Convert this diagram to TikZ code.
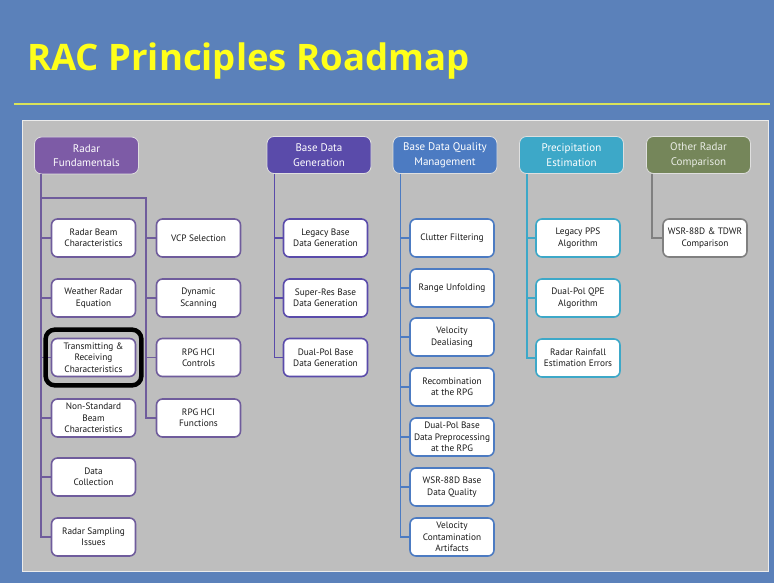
\documentclass[tikz,border=0pt]{standalone}
\usepackage{fontspec}
\setmainfont{PT Sans}
\newfontfamily\titlefont{Open Sans}
\usetikzlibrary{fit}

\definecolor{slideblue}{HTML}{5B81BA}
\definecolor{panelgray}{HTML}{BEBEBE}
\definecolor{titleyellow}{HTML}{FFFF1A}
\definecolor{rulecol}{HTML}{D9E35A}
\definecolor{fundcol}{HTML}{7D5BA6}
\definecolor{fundline}{HTML}{6F5C9C}
\definecolor{gencol}{HTML}{5A4BAA}
\definecolor{qualcol}{HTML}{4C7BC2}
\definecolor{preccol}{HTML}{3DA8C8}
\definecolor{othcol}{HTML}{75865A}
\definecolor{othline}{HTML}{808080}

\tikzset{
  head/.style={rounded corners=7pt, draw=white!75!gray, line width=0.8pt,
    text=white, font=\fontsize{11}{14.5}\selectfont, align=center,
    minimum width=104pt, minimum height=37pt, inner sep=1pt},
  topic/.style={rounded corners=6pt, fill=white, line width=1.6pt,
    text=black!90, font=\fontsize{9.3}{11.4}\selectfont, align=center,
    minimum width=84pt, minimum height=38pt, inner sep=0pt},
  link/.style={line width=1.6pt}
}

\begin{document}
\begin{tikzpicture}[x=1pt,y=-1pt]
    \useasboundingbox (0,0) rectangle (774,583);
    \fill[slideblue] (0,0) rectangle (774,583);

    % title and rule
    \node[anchor=base west, inner sep=0pt, text=titleyellow,
          font=\titlefont\bfseries\fontsize{36.5}{40}\selectfont] (title) at (27,71) {RAC Principles Roadmap};
    \draw[rulecol, line width=1.5pt] (14,104) -- (770,104);
    \fill[panelgray] (22,120) rectangle (768,571);
    \draw[white!85!gray, line width=0.8pt] (22,120) rectangle (768,571);

    % column heads
    \node[head, fill=fundcol] (rf)  at (86.5,155.5) {Radar\\Fundamentals};
    \node[head, fill=gencol]  (bdg) at (319,155)    {Base Data\\Generation};
    \node[head, fill=qualcol] (bdq) at (445,155)    {Base Data Quality\\Management};
    \node[head, fill=preccol] (pe)  at (571.5,155)  {Precipitation\\Estimation};
    \node[head, fill=othcol, text=white!85!othcol] (orc) at (698.5,155) {Other Radar\\Comparison};

    % radar fundamentals
    \begin{scope}[every node/.style={topic, draw=fundline}]
        \node (rbc) at (93.5,238)   {Radar Beam\\Characteristics};
        \node (wre) at (93.5,298)   {Weather Radar\\Equation};
        \node (trc) at (93.5,357.5) {Transmitting \&\\Receiving\\Characteristics};
        \node (nsb) at (93.5,418)   {Non-Standard\\Beam\\Characteristics};
        \node (dc)  at (93.5,477)   {Data\\Collection};
        \node (rsi) at (93.5,537)   {Radar Sampling\\Issues};
        \node (vcp) at (198.5,238)   {VCP Selection};
        \node (dyn) at (198.5,298)   {Dynamic\\Scanning};
        \node (rhc) at (198.5,357.5) {RPG HCI\\Controls};
        \node (rhf) at (198.5,418)   {RPG HCI\\Functions};
    \end{scope}
    \coordinate (rfs) at ([xshift=7pt]rf.south west);
    \coordinate (rfk) at (146,198);
    \draw[link, fundline] (rfs) |- (rsi.west);
    \draw[link, fundline] (rfs |- rfk) -- (rfk) |- (rhf.west);
    \foreach \n in {rbc,wre,trc,nsb,dc}
        \draw[link, fundline] (\n.west) -- (\n.west -| rfs);
    \foreach \n in {vcp,dyn,rhc}
        \draw[link, fundline] (\n.west) -- (\n.west -| rfk);
    \node[fit=(trc), draw=black, line width=4.5pt, rounded corners=9pt,
          inner xsep=5pt, inner ysep=8pt] (mark) {};

    % base data generation
    \begin{scope}[every node/.style={topic, draw=gencol}]
        \node (lbd) at (325.5,238)   {Legacy Base\\Data Generation};
        \node (srb) at (325.5,298)   {Super-Res Base\\Data Generation};
        \node (dpb) at (325.5,357.5) {Dual-Pol Base\\Data Generation};
    \end{scope}
    \coordinate (bdgs) at ([xshift=8pt]bdg.south west);
    \draw[link, gencol] (bdgs) |- (dpb.west);
    \foreach \n in {lbd,srb}
        \draw[link, gencol] (\n.west) -- (\n.west -| bdgs);

    % base data quality management
    \begin{scope}[every node/.style={topic, draw=qualcol}]
        \node (clf) at (452,238) {Clutter Filtering};
        \node (rgu) at (452,288) {Range Unfolding};
        \node (vdl) at (452,337) {Velocity\\Dealiasing};
        \node (rec) at (452,387) {Recombination\\at the RPG};
        \node (dpp) at (452,437) {Dual-Pol Base\\Data Preprocessing\\at the RPG};
        \node (bdqq) at (452,487) {WSR-88D Base\\Data Quality};
        \node (vca) at (452,537) {Velocity\\Contamination\\Artifacts};
    \end{scope}
    \coordinate (bdqs) at ([xshift=8pt]bdq.south west);
    \draw[link, qualcol] (bdqs) |- (vca.west);
    \foreach \n in {clf,rgu,vdl,rec,dpp,bdqq}
        \draw[link, qualcol] (\n.west) -- (\n.west -| bdqs);

    % precipitation estimation
    \begin{scope}[every node/.style={topic, draw=preccol}]
        \node (lpps) at (578,238) {Legacy PPS\\Algorithm};
        \node (qpe)  at (578,298) {Dual-Pol QPE\\Algorithm};
        \node (rree) at (578,358) {Radar Rainfall\\Estimation Errors};
    \end{scope}
    \coordinate (pes) at ([xshift=8pt]pe.south west);
    \draw[link, preccol] (pes) |- (rree.west);
    \foreach \n in {lpps,qpe}
        \draw[link, preccol] (\n.west) -- (\n.west -| pes);

    % other radar comparison
    \node[topic, draw=othline] (wtd) at (705,238) {WSR-88D \& TDWR\\Comparison};
    \coordinate (orcs) at ([xshift=6pt]orc.south west);
    \draw[link, othline] (orcs) |- (wtd.west);
\end{tikzpicture}
\end{document}
